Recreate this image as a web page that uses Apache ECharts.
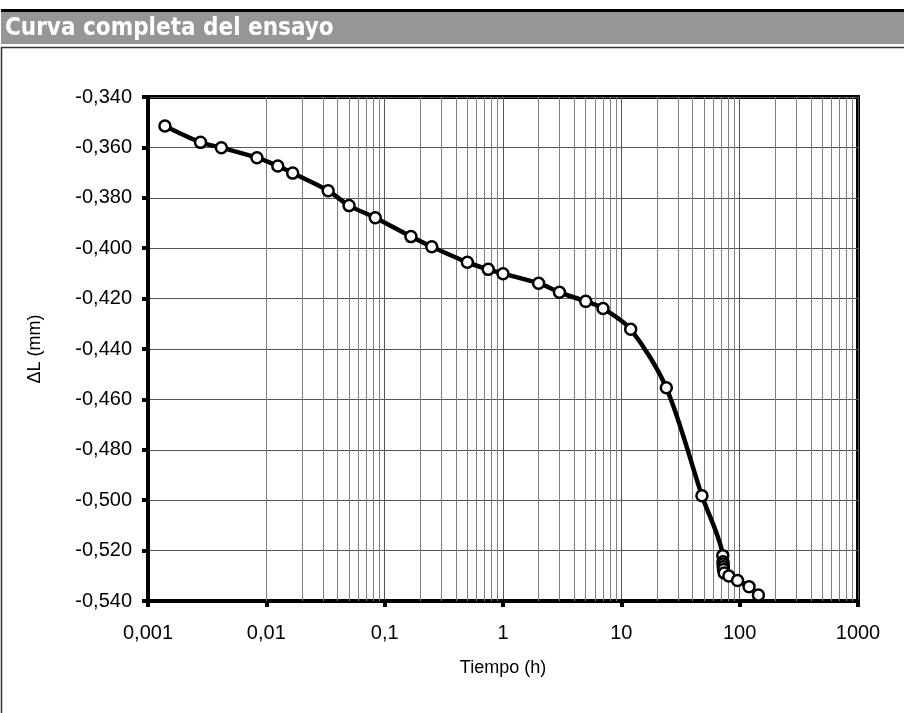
<!DOCTYPE html>
<html><head><meta charset="utf-8">
<script src="https://cdn.jsdelivr.net/npm/echarts@6/dist/echarts.min.js"></script>
<style>html,body{margin:0;padding:0;background:#fff}#c{width:904px;height:713px}</style>
</head><body><div id="c"></div>
<script>
// ---- data ----
const tiempo = [0.00139, 0.00278, 0.00417, 0.00833, 0.0125, 0.0167, 0.0333, 0.05, 0.0833,
  0.1667, 0.25, 0.5, 0.75, 1, 2, 3, 5, 7, 12, 24, 48,
  72, 72.3, 72.5, 72.7, 73, 74, 81, 96, 120, 144];
const deltaL = [-0.3515, -0.3580, -0.3601, -0.3641, -0.3674, -0.3702, -0.3772, -0.3831, -0.3879,
  -0.3954, -0.3994, -0.4056, -0.4084, -0.4101, -0.4139, -0.4175, -0.4211, -0.4239, -0.4322, -0.4554, -0.4982,
  -0.5220, -0.5244, -0.5253, -0.5264, -0.5275, -0.5289, -0.5301, -0.5319, -0.5343, -0.5376];
const xDecades = [0.001, 0.01, 0.1, 1, 10, 100];
const minorMultipliers = [2, 3, 4, 5, 6, 7, 8, 9];
const yMin = -0.54, yMax = -0.34, yStep = 0.02;
const title = 'Curva completa del ensayo';
const xName = 'Tiempo (h)';
const yName = '\u0394L (mm)';

const points = tiempo.map((t, i) => [t, deltaL[i]]);
const minorLines = [];
xDecades.forEach(d => minorMultipliers.forEach(m => minorLines.push({ xAxis: +(d * m).toPrecision(6) })));

const chart = echarts.init(document.getElementById('c'), null, { renderer: 'canvas' });
const fam = '"Liberation Sans", Arial, sans-serif';
chart.setOption({
  animation: false,
  backgroundColor: '#fff',
  graphic: [
    { type: 'rect', z: 0, shape: { x: 1, y: 9, width: 903, height: 3 }, style: { fill: '#000' } },
    { type: 'rect', z: 0, shape: { x: 1, y: 12, width: 903, height: 32 }, style: { fill: '#969696' } },
    { type: 'text', z: 1, left: 5, top: 17, style: { text: title, fill: '#fff', font: 'bold 24px "DejaVu Sans Condensed", "DejaVu Sans", sans-serif' } },
    { type: 'rect', z: 0, shape: { x: 1.5, y: 47.5, width: 910, height: 700 }, style: { fill: 'none', stroke: '#333', lineWidth: 1.5 } }
  ],
  grid: { left: 148, top: 97, width: 710, height: 504, show: true, borderColor: '#000', borderWidth: 4, backgroundColor: 'transparent' },
  xAxis: {
    type: 'log', logBase: 10, min: 0.001, max: 1000,
    name: xName, nameLocation: 'middle', nameGap: 58,
    nameTextStyle: { fontFamily: fam, fontSize: 18, color: '#000' },
    axisLine: { lineStyle: { color: '#000', width: 4 } },
    axisTick: { show: true, length: 6, lineStyle: { color: '#000', width: 4 } },
    axisLabel: { fontFamily: fam, fontSize: 20, color: '#000', margin: 22,
      formatter: v => String(+(+v).toPrecision(6)).replace('.', ',') },
    splitLine: { show: true, lineStyle: { color: '#555', width: 1 } }
  },
  yAxis: {
    type: 'value', min: yMin, max: yMax, interval: yStep,
    name: yName, nameLocation: 'middle', nameGap: 104,
    nameTextStyle: { fontFamily: fam, fontSize: 18, color: '#000' },
    axisLine: { show: true, lineStyle: { color: '#000', width: 4 } },
    axisTick: { show: true, length: 6, lineStyle: { color: '#000', width: 4 } },
    axisLabel: { fontFamily: fam, fontSize: 20, color: '#000', margin: 16,
      formatter: v => (+v).toFixed(3).replace('.', ',') },
    splitLine: { show: true, lineStyle: { color: '#555', width: 1 } }
  },
  series: [
    { type: 'line', data: [], z: 1, silent: true,
      markLine: { silent: true, symbol: 'none', animation: false, label: { show: false },
        lineStyle: { color: '#808080', width: 1, type: 'solid' }, emphasis: { disabled: true },
        data: minorLines } },
    { type: 'line', data: points, z: 5, smooth: 0.3,
      lineStyle: { color: '#000', width: 4.5 },
      symbol: 'circle', symbolSize: 11, showAllSymbol: true,
      itemStyle: { color: '#fff', borderColor: '#000', borderWidth: 2.5 } }
  ]
});
</script></body></html>
